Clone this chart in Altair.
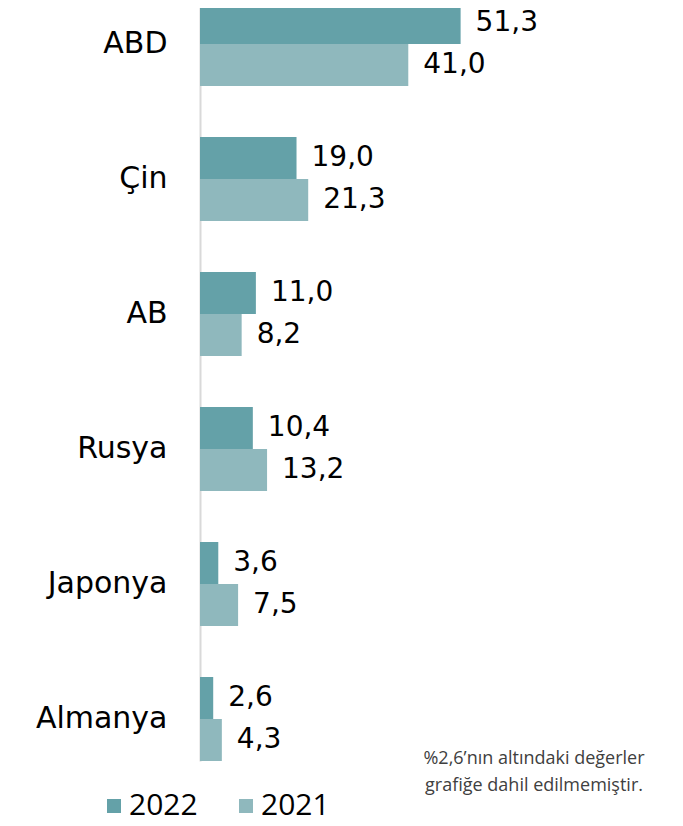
import altair as alt
import pandas as pd

categories = ["ABD", "Çin", "AB", "Rusya", "Japonya", "Almanya"]
values_2022 = [51.3, 19.0, 11.0, 10.4, 3.6, 2.6]
values_2021 = [41.0, 21.3, 8.2, 13.2, 7.5, 4.3]
years = ["2022", "2021"]
colors = ["#64a1a8", "#8fb8bd"]
note = ["%2,6’nın altındaki değerler", "grafiğe dahil edilmemiştir."]

rows = []
for c, a, b in zip(categories, values_2022, values_2021):
    rows.append({"cat": c, "year": "2022", "value": a})
    rows.append({"cat": c, "year": "2021", "value": b})
df = pd.DataFrame(rows)
df["label"] = df["value"].map(lambda v: f"{v:.1f}".replace(".", ","))

y_enc = alt.Y(
    "cat:N",
    sort=categories,
    scale=alt.Scale(paddingInner=0.378, paddingOuter=0),
    axis=alt.Axis(title=None, domain=True, domainColor="#d9d9d9", domainWidth=2,
                  ticks=False, labelPadding=33,
                  labelFont="DejaVu Sans", labelFontSize=30, labelColor="#000000"),
)
x_enc = alt.X("value:Q", scale=alt.Scale(domain=[0, 93.5]), axis=None)
color_enc = alt.Color(
    "year:N",
    scale=alt.Scale(domain=years, range=colors),
    legend=alt.Legend(
        title=None, orient="none", direction="horizontal",
        legendX=-101, legendY=789, symbolType="square", symbolSize=196,
        symbolStrokeWidth=0, labelFont="Open Sans", labelFontSize=30,
        labelColor="#000000", labelOffset=0, columnPadding=33,
    ),
)

base = alt.Chart(df)
layers = []
offsets = {"2022": -21, "2021": 21}
for yr in years:
    sub = base.transform_filter(alt.datum.year == yr)
    layers.append(sub.mark_bar(height=42, yOffset=offsets[yr]).encode(
        y=y_enc, x=x_enc, color=color_enc))
for yr in years:
    sub = base.transform_filter(alt.datum.year == yr)
    layers.append(sub.mark_text(
        align="left", baseline="middle", dx=15, yOffset=offsets[yr],
        font="DejaVu Sans", fontSize=28, color="#000000",
    ).encode(y=y_enc, x=x_enc, text="label:N"))

chart = alt.layer(*layers).properties(
    width=475, height=759, autosize="none",
    padding={"left": 192, "top": -6, "right": 0, "bottom": 57},
    title=alt.TitleParams(
        text=note, orient="bottom", anchor="start", align="center", frame="group",
        dx=334, dy=-75, font="Open Sans", fontSize=18, fontWeight="normal",
        color="#404040", lineHeight=27,
    ),
).configure_view(stroke=None)

chart.save("out.html", embed_options={"renderer": "svg", "actions": False})
